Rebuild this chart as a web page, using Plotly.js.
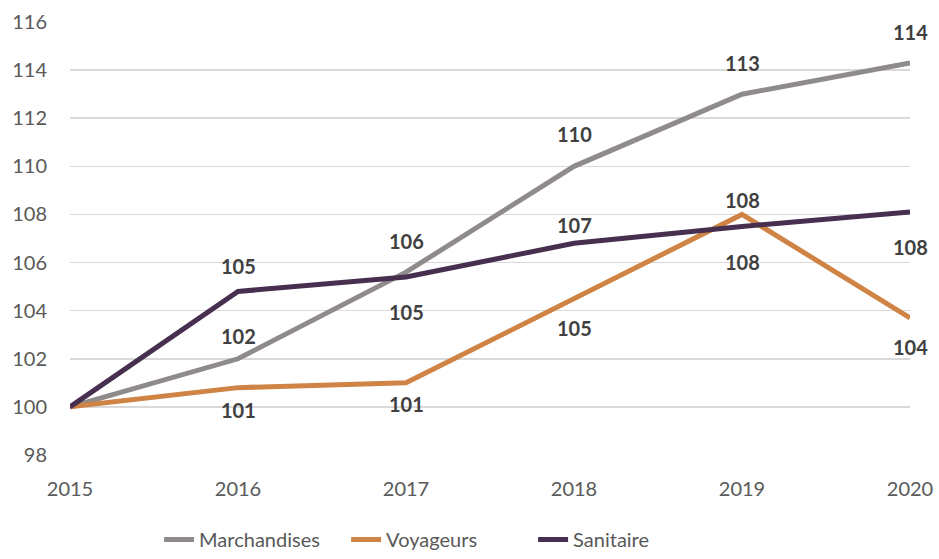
<!DOCTYPE html>
<html>
<head>
<meta charset="utf-8">
<script src="https://cdn.plot.ly/plotly-3.0.1.min.js"></script>
<style>html,body{margin:0;padding:0;background:#fff;}#chart{width:939px;height:559px;}</style>
</head>
<body>
<div id="chart"></div>
<script>
// ---- data ----
var years = [2015, 2016, 2017, 2018, 2019, 2020];
var marchandises = [100, 102.0, 105.6, 110.0, 113.0, 114.3];
var voyageurs = [100, 100.8, 101.0, 104.5, 108.0, 103.7];
var sanitaire = [100, 104.8, 105.4, 106.8, 107.5, 108.1];
var seriesNames = ["Marchandises", "Voyageurs", "Sanitaire"];
var yTicks = [98, 100, 102, 104, 106, 108, 110, 112, 114, 116];

// ---- style ----
var colors = ["#8F8B8B", "#CF8446", "#472F4F"];
// pixel shift of each data label (positive = up), first point has no label
var labelShift = [
  [null, 23, 31, 32, 31, 31],
  [null, -22, -21, -29, 14, -29],
  [null, 25, -35, 18, -36, -35]
];
var seriesData = [marchandises, voyageurs, sanitaire];

var traces = seriesData.map(function (vals, i) {
  return {
    x: years, y: vals, name: seriesNames[i], type: "scatter", mode: "lines",
    line: {color: colors[i], width: 5},
    hoverinfo: "skip"
  };
});

var annotations = [];
seriesData.forEach(function (vals, i) {
  vals.forEach(function (v, j) {
    if (labelShift[i][j] === null) return;
    annotations.push({
      x: years[j], y: v, xref: "x", yref: "y",
      text: "<b>" + Math.round(v) + "</b>",
      showarrow: false, yshift: labelShift[i][j],
      font: {family: "Lato, sans-serif", size: 20, color: "#404040"}
    });
  });
});

var layout = {
  width: 939, height: 559,
  margin: {l: 70, r: 29, t: 22, b: 104},
  paper_bgcolor: "#fff", plot_bgcolor: "#fff",
  font: {family: "Lato, sans-serif", size: 20, color: "#595959"},
  showlegend: true,
  legend: {
    orientation: "h", x: 0.44, xanchor: "center",
    yref: "container", y: 0.0, yanchor: "bottom",
    entrywidth: 142, entrywidthmode: "pixels",
    font: {family: "Lato, sans-serif", size: 20, color: "#595959"},
    itemclick: false, tracegroupgap: 0
  },
  xaxis: {
    range: [2015, 2020], tickvals: years, ticktext: years.map(String),
    showgrid: false, zeroline: false, showline: false, ticks: "",
    ticklabelstandoff: 20, fixedrange: true, automargin: false
  },
  yaxis: {
    range: [98, 116], tickvals: yTicks, showgrid: true, gridcolor: "#D9D9D9",
    gridwidth: 1.5, zeroline: false, showline: false, ticks: "",
    ticklabelstandoff: 22, fixedrange: true, automargin: false
  },
  annotations: annotations
};

Plotly.newPlot("chart", traces, layout, {displayModeBar: false, staticPlot: true});
</script>
</body>
</html>
